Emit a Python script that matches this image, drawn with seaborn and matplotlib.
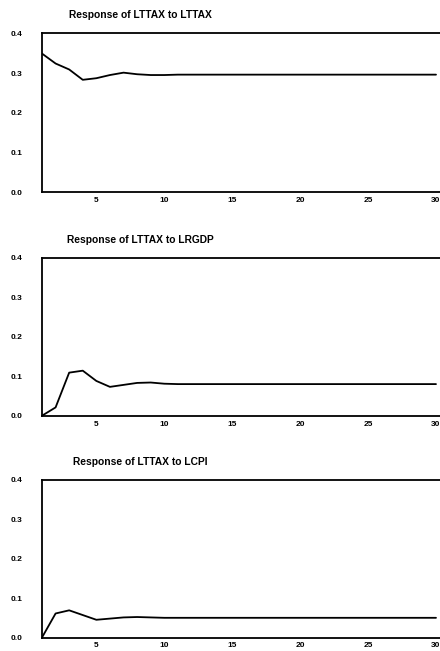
import numpy as np
import pandas as pd
import matplotlib
matplotlib.use("Agg")
import matplotlib.pyplot as plt
import seaborn as sns

periods = list(range(1, 31))

# responses; flat after period 10
resp_lttax = [0.349, 0.324, 0.309, 0.283, 0.287, 0.295, 0.301, 0.297, 0.295, 0.295] + [0.296] * 20
resp_lrgdp = [0.000, 0.021, 0.109, 0.114, 0.088, 0.073, 0.078, 0.083, 0.084, 0.081] + [0.080] * 20
resp_lcpi = [0.000, 0.061, 0.069, 0.057, 0.045, 0.048, 0.051, 0.052, 0.051, 0.050] + [0.050] * 20

titles = ["Response of LTTAX to LTTAX", "Response of LTTAX to LRGDP", "Response of LTTAX to LCPI"]
y_ticks = [0.0, 0.1, 0.2, 0.3, 0.4]
y_labels = ["0.0", "0.1", "0.2", "0.3", "0.4"]
x_ticks = [5, 10, 15, 20, 25, 30]

df = pd.DataFrame({
    "Period": periods * 3,
    "Response": resp_lttax + resp_lrgdp + resp_lcpi,
    "Panel": [titles[0]] * 30 + [titles[1]] * 30 + [titles[2]] * 30,
})

sns.set_style("white")
plt.rcParams["font.family"] = ["Liberation Sans", "DejaVu Sans"]
plt.rcParams["font.weight"] = "bold"
plt.rcParams["text.color"] = "black"

fig = plt.figure(figsize=(4.4, 6.51), dpi=100)
W, H = 440, 651
# (top, bottom) of each panel in pixels
boxes = [(33.3, 192.3), (257.7, 415.7), (480.0, 637.5)]
left_px, right_px = 42, 448   # axes run past the right edge, as in the scan
x30_px = 436                  # where period 30 falls
xmax = 1 + 29 * (right_px - left_px) / (x30_px - left_px)

for title, (top, bot) in zip(titles, boxes):
    ax = fig.add_axes([left_px / W, 1 - bot / H, (right_px - left_px) / W, (bot - top) / H])
    sns.lineplot(data=df[df.Panel == title], x="Period", y="Response",
                 color="black", linewidth=1.3, ax=ax)
    ax.set_xlim(1, xmax)
    ax.set_ylim(0, 0.4)
    ax.set_xticks(x_ticks)
    ax.set_xticks(periods, minor=True)
    ax.set_yticks(y_ticks)
    ax.set_yticklabels(y_labels)
    ax.tick_params(axis="both", labelsize=6.0, width=0.8, colors="black")
    ax.tick_params(axis="x", which="major", direction="in", length=3, pad=3.5)
    ax.tick_params(axis="x", which="minor", direction="in", length=1.5, width=0.7)
    ax.tick_params(axis="y", direction="out", length=2.5, pad=20)
    for lab in ax.get_yticklabels():
        lab.set_horizontalalignment("left")
    ax.set_xlabel("")
    ax.set_ylabel("")
    for s in ax.spines.values():
        s.set_color("black")
        s.set_linewidth(1.3)
    ax.text((140 - left_px) / (right_px - left_px), 1.0 + 18 / (bot - top), title,
            transform=ax.transAxes, ha="center", va="center",
            fontsize=7.4, fontweight="bold", color="black")

fig.savefig("out.png", dpi=100)
